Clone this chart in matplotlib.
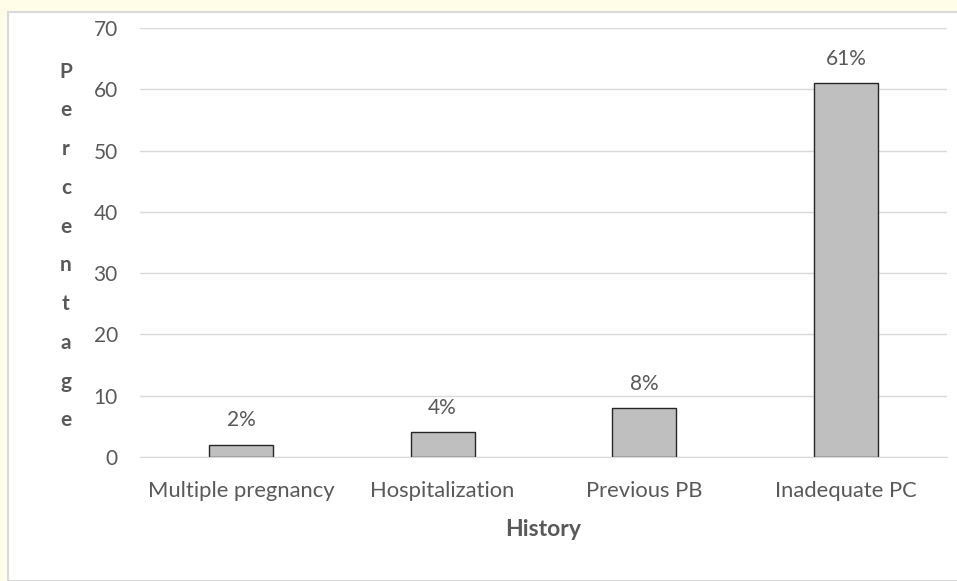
import matplotlib.pyplot as plt
from matplotlib.patches import Rectangle

categories = ['Multiple pregnancy', 'Hospitalization', 'Previous PB', 'Inadequate PC']
values = [2, 4, 8, 61]
labels = ['2%', '4%', '8%', '61%']
yticks = [0, 10, 20, 30, 40, 50, 60, 70]

plt.rcParams['font.family'] = ['Lato', 'DejaVu Sans']
text_gray = '#595959'
grid_gray = '#D9D9D9'

fig = plt.figure(figsize=(9.57, 5.81), dpi=100, facecolor='#FFFCE8')

# white chart panel with thin border (top/left show the cream page)
panel = Rectangle((8 / 957, 0), 1.2, 1 - 12 / 581, transform=fig.transFigure,
                  facecolor='white', edgecolor=grid_gray, linewidth=1.5, zorder=-1)
fig.patches.append(panel)

ax = fig.add_axes([140 / 957, 1 - 457 / 581, 807 / 957, 429 / 581])
ax.set_facecolor('none')
ax.set_zorder(1)

x = range(len(categories))
ax.bar(x, values, width=0.317, color='#BFBFBF', edgecolor='#262626',
       linewidth=1.0, zorder=3)

for xi, v, lab in zip(x, values, labels):
    ax.text(xi, v + 3.0, lab, ha='center', va='baseline', fontsize=15,
            color=text_gray)

ax.set_xlim(-0.5, 3.5)
ax.set_ylim(0, 70)
ax.set_yticks(yticks)
ax.set_xticks(list(x))
ax.set_xticklabels(categories)
ax.tick_params(axis='both', length=0, labelsize=15, labelcolor=text_gray)
ax.tick_params(axis='x', labelsize=15.8, pad=17)
ax.tick_params(axis='y', pad=16)

ax.grid(axis='y', color=grid_gray, linewidth=1, zorder=0)
for s in ['top', 'right', 'left']:
    ax.spines[s].set_visible(False)
ax.spines['bottom'].set_color(grid_gray)
ax.spines['bottom'].set_zorder(4)

ax.set_xlabel('History', fontsize=16.5, fontweight='bold', color=text_gray,
              labelpad=13)

# stacked vertical y-axis title
fig.text(66 / 957, 1 - 246 / 581, '\n'.join('Percentage'), ha='center',
         va='center', fontsize=15, fontweight='bold', color=text_gray,
         linespacing=2.17, zorder=2)

fig.savefig('out.png', dpi=100, facecolor=fig.get_facecolor())
